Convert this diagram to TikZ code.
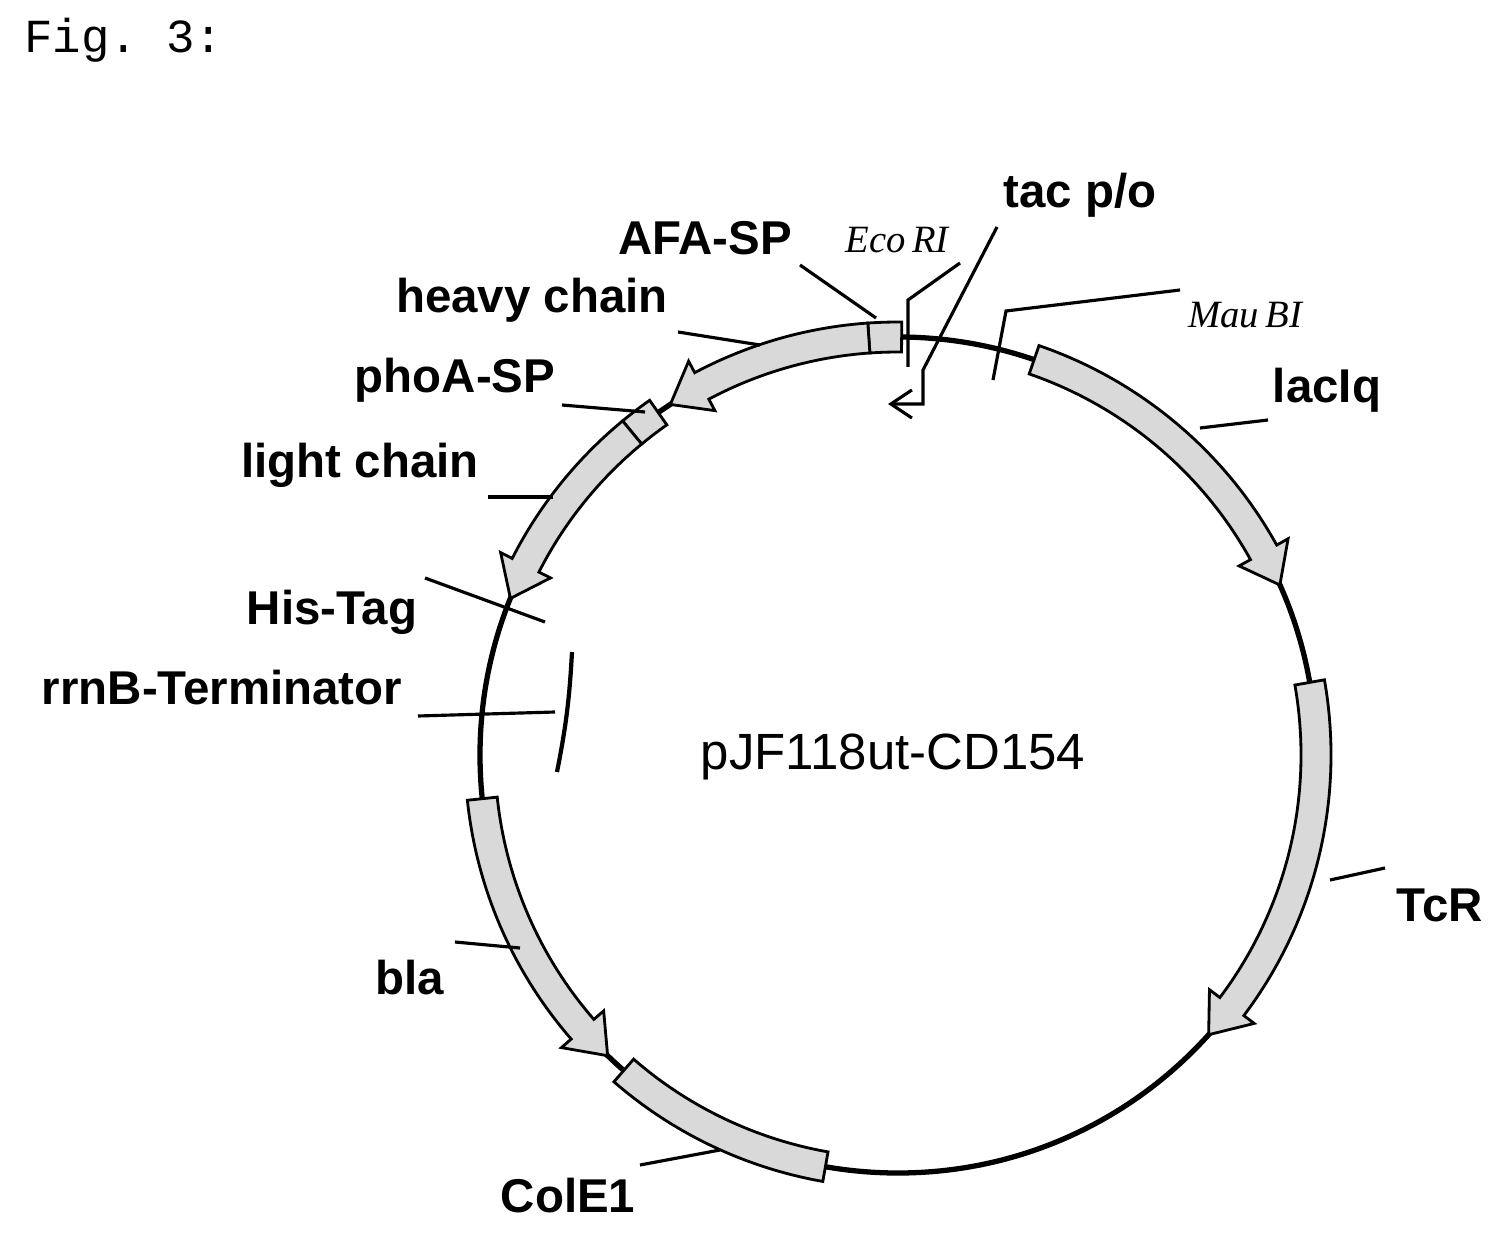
\documentclass[tikz,border=0pt]{standalone}
\usepackage{fontspec}
\setmainfont{Liberation Serif}
\setsansfont{Liberation Sans}
\setmonofont{Liberation Mono}
\usetikzlibrary{arrows.meta}
\tikzset{
  lbl/.style={font=\sffamily\bfseries\fontsize{27}{30}\selectfont, inner sep=0pt},
  site/.style={font=\itshape\fontsize{22}{24}\selectfont, inner sep=0pt},
  feat/.style={draw, line width=1.6pt, fill=gray!30},
  lead/.style={line width=1.8pt},
}
% arrow feature: start angle, neck angle, tip angle
\newcommand{\plarrow}[3]{%
  \draw[feat] (#1:433) arc[start angle=#1, end angle=#2, radius=433] -- (#2:446)
    -- (#3:418) -- (#2:390) -- (#2:403) arc[start angle=#2, end angle=#1, radius=403] -- cycle;}
\newcommand{\plbox}[2]{%
  \draw[feat] (#1:433) arc[start angle=#1, end angle=#2, radius=433] -- (#2:403)
    arc[start angle=#2, end angle=#1, radius=403] -- cycle;}
\begin{document}
\begin{tikzpicture}[x=0.02cm, y=-0.02cm]
  \useasboundingbox (0,0) rectangle (1507,1236);
  % backbone
  \coordinate (c) at (898,755);
  \draw[line width=3pt] (c) circle[radius=418];
  \begin{scope}[shift={(c)}, y=0.02cm]
    \plbox{89.5}{94}
    \plarrow{94}{118}{123}
    \plbox{125}{129.5}
    \plarrow{129.5}{153}{158}
    \plarrow{186}{221}{226}
    \plbox{229}{260}
    \plarrow{10}{-37}{-42}
    \plarrow{71}{29}{24}
  \end{scope}
  % labels
  \node[font=\ttfamily\fontsize{27}{30}\selectfont, anchor=west] (fig) at (18,40) {Fig. 3:};
  \node[font=\sffamily\fontsize{29}{32}\selectfont] (name) at (893,757) {pJF118ut-CD154};
  \node[lbl] (afa) at (705,238) {AFA-SP};
  \node[lbl] (heavy) at (532,300) {heavy chain};
  \node[lbl] (phoa) at (455,380) {phoA-SP};
  \node[lbl] (light) at (360,465) {light chain};
  \node[lbl] (his) at (332,612) {His-Tag};
  \node[lbl] (rrnb) at (222,688) {rrnB-Terminator};
  \node[lbl] (bla) at (410,978) {bla};
  \node[lbl] (cole) at (568,1196) {ColE1};
  \node[lbl] (tcr) at (1440,905) {TcR};
  \node[lbl] (laci) at (1327,390) {lacIq};
  \node[lbl] (tac) at (1080,195) {tac p/o};
  \node[site] (eco) at (897,240) {Eco\,RI};
  \node[site] (mau) at (1245,315) {Mau\,BI};
  % leader lines
  \draw[lead] (800,265) -- (876,318);
  \draw[lead] (678,332) -- (760,345);
  \draw[lead] (562,405) -- (645,412);
  \draw[lead] (488,497) -- (553,497);
  \draw[lead] (425,578) -- (545,622);
  \draw[lead] (418,716) -- (555,712);
  \draw[line width=2.4pt] (572,652) to[bend left=4] (557,772);
  \draw[lead] (455,942) -- (520,948);
  \draw[lead] (640,1165) -- (720,1150);
  \draw[lead] (1330,880) -- (1385,868);
  \draw[lead] (1200,428) -- (1268,420);
  % restriction sites and promoter
  \draw[lead] (960,263) -- (908,300) -- (908,367);
  \draw[lead] (1180,290) -- (1006,311) -- (993,380);
  \draw[lead, -{Straight Barb[length=12pt, width=16pt]}] (997,227) -- (923,370) -- (923,404) -- (888,404);
\end{tikzpicture}
\end{document}
